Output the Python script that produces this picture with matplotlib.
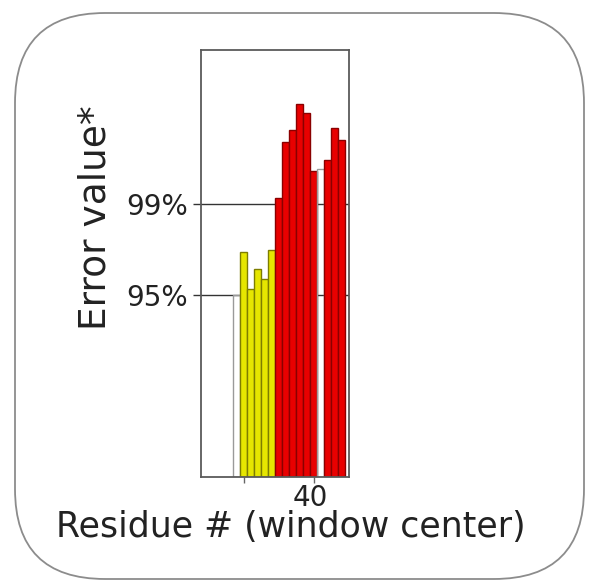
import numpy as np
import matplotlib
matplotlib.use("Agg")
from matplotlib import pyplot as plt
from matplotlib.patches import FancyBboxPatch
from matplotlib.transforms import IdentityTransform, ScaledTranslation

plt.rcParams['font.family'] = ['DejaVu Sans']

# sliding-window error value per residue (window center)
residues = [29, 30, 31, 32, 33, 34, 35, 36, 37, 38, 39, 40, 41, 42, 43, 44]
error_vals = [1.00, 1.235, 1.031, 1.143, 1.088, 1.247, 1.535, 1.842,
              1.907, 2.049, 1.998, 1.681, 1.69, 1.742, 1.916, 1.852]
levels = ['none', 'warn', 'warn', 'warn', 'warn', 'warn', 'high', 'high',
          'high', 'high', 'high', 'high', 'none', 'high', 'high', 'high']

# significance thresholds on the error scale
thresholds = [1.0, 1.5]
threshold_labels = ['95%', '99%']

face = {'none': 'none', 'warn': '#e6e600', 'high': '#e80000'}
edge = {'none': '#9a9a9a', 'warn': '#7d7d00', 'high': '#8a0000'}

fig = plt.figure(figsize=(5.89, 5.86), dpi=100)
ax = fig.add_axes([201 / 589, 1 - 477 / 586, 148 / 589, 427 / 586])

for r, v, lv in zip(residues, error_vals, levels):
    ax.bar(r, v, width=1.0, color=face[lv], edgecolor=edge[lv],
           linewidth=1.0, zorder=2)

ax.set_xlim(23.86, 45.0)
ax.set_ylim(0, 2.346)

ax.set_yticks(thresholds, threshold_labels)
ax.set_xticks([30, 40], ['', '40'])
ax.grid(axis='y', color='#333333', linewidth=1.0, zorder=1)
ax.set_axisbelow(True)

ax.tick_params(axis='y', length=6, width=1, color='#333333', pad=3.5,
               labelsize=20, labelcolor='#222222')
ax.tick_params(axis='x', length=4, width=1, color='#666666', pad=1,
               labelsize=20, labelcolor='#222222')
# nudge the x tick label a little to the left
shift = ScaledTranslation(-4 / 100, 0, fig.dpi_scale_trans)
for lbl in ax.get_xticklabels():
    lbl.set_transform(lbl.get_transform() + shift)
for s in ax.spines.values():
    s.set_color('#5a5a5a')
    s.set_linewidth(1.3)

fig.text(291 / 589, 1 - 537 / 586, 'Residue # (window center)', ha='center',
         va='baseline', fontsize=25, color='#222222')
fig.text(96 / 589, 1 - 218 / 586, 'Error value*', ha='center', va='center',
         rotation=90, fontsize=27, color='#222222')

# rounded frame around the whole panel
frame = FancyBboxPatch((15, 7), 569, 566, boxstyle='round,pad=0,rounding_size=90',
                       transform=IdentityTransform(), facecolor='none',
                       edgecolor='#8c8c8c', linewidth=1.3)
fig.patches.append(frame)

fig.savefig('out.png', dpi=100)
